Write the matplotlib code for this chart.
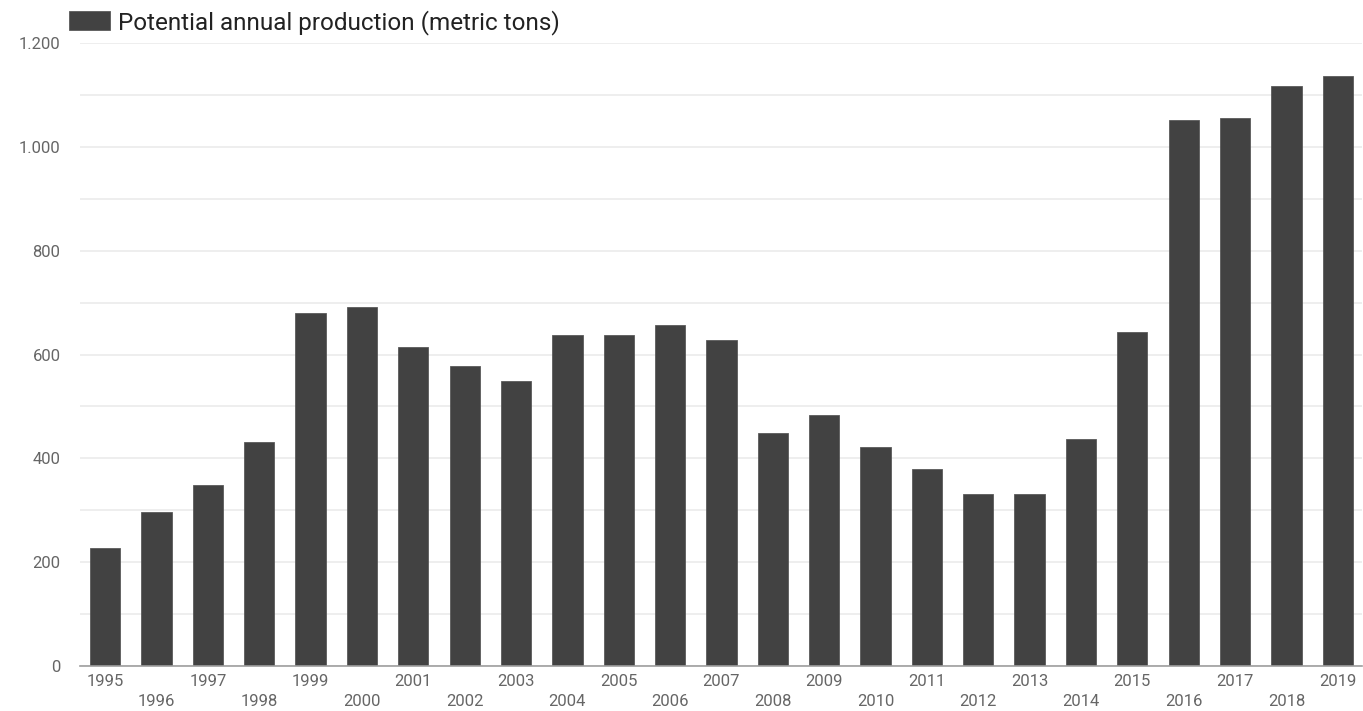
import matplotlib.pyplot as plt
from matplotlib.ticker import MultipleLocator, FuncFormatter

plt.rcParams['font.family'] = ['Roboto', 'DejaVu Sans']

# Data
years = list(range(1995, 2020))
production = [227, 297, 348, 432, 679, 692, 614, 578, 549, 637, 637, 656, 627,
              449, 484, 422, 380, 332, 332, 438, 643, 1052, 1055, 1117, 1136]
series_label = 'Potential annual production (metric tons)'

bar_color = '#424242'
grid_color = '#ebebeb'
tick_color = '#666666'

fig = plt.figure(figsize=(13.63, 7.11), dpi=100)
ax = fig.add_axes([0.0587, 0.0633, 0.9405, 0.8762])

x = list(range(len(years)))
bars = ax.bar(x, production, width=0.59, color=bar_color,
              edgecolor='#5a5a5a', linewidth=0.6, zorder=3,
              label=series_label)

ax.set_xlim(-0.49, len(years) - 0.53)
ax.set_ylim(0, 1200)

ax.yaxis.set_major_locator(MultipleLocator(200))
ax.yaxis.set_minor_locator(MultipleLocator(100))
ax.yaxis.set_major_formatter(
    FuncFormatter(lambda v, p: '{:,.0f}'.format(v).replace(',', '.')))
ax.grid(axis='y', which='both', color=grid_color, linewidth=1.2, zorder=0)
ax.tick_params(axis='y', which='both', length=0, pad=14,
               labelsize=12, labelcolor=tick_color)

ax.set_xticks(x)
ax.set_xticklabels(years)
ax.tick_params(axis='x', length=0, pad=6, labelsize=12, labelcolor=tick_color)
for i, lbl in enumerate(ax.get_xticklabels()):
    if i % 2 == 1:
        lbl.set_y(-0.031)

for side in ['top', 'right', 'left']:
    ax.spines[side].set_visible(False)
ax.spines['bottom'].set_color('#9e9e9e')
ax.spines['bottom'].set_linewidth(1.2)
ax.spines['bottom'].set_zorder(4)

leg = fig.legend(handles=[bars], labels=[series_label], loc='center left',
                 bbox_to_anchor=(0.0506, 0.969), frameon=False, fontsize=17.5,
                 borderpad=0, borderaxespad=0,
                 handlelength=1.69, handleheight=0.86, handletextpad=0.33)
for t in leg.get_texts():
    t.set_color('#222222')

fig.savefig('out.png', dpi=100)
